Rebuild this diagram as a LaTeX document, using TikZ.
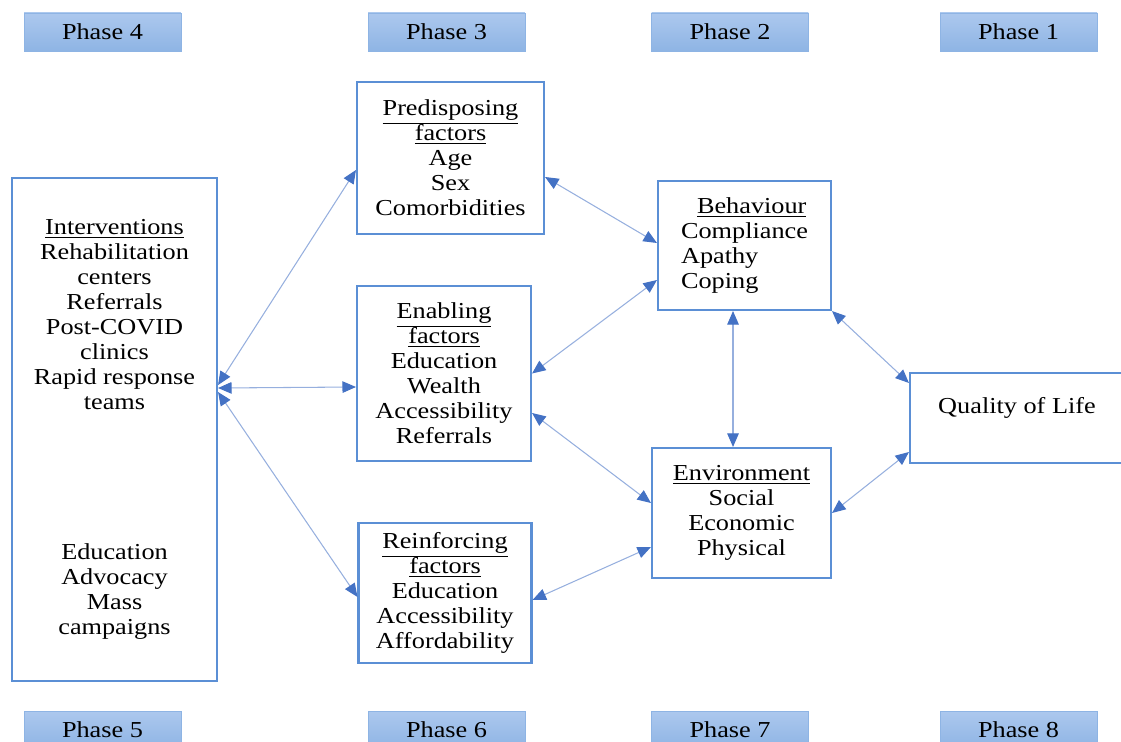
\documentclass[tikz,border=0pt]{standalone}
\usepackage{fontspec}
\setmainfont{Liberation Serif}[FakeStretch=1.15]
\usepackage{tikz}
\usetikzlibrary{arrows.meta}
\usetikzlibrary{calc}

\definecolor{boxblue}{RGB}{91,143,213}
\definecolor{linkblue}{RGB}{150,175,222}
\definecolor{tipblue}{RGB}{68,114,196}
\definecolor{phasetop}{RGB}{172,200,238}
\definecolor{phasebot}{RGB}{142,180,228}

\tikzset{
  factor/.style={draw=boxblue, line width=1.2pt, fill=white, inner sep=0pt, align=center},
  phase/.style={draw=phasebot, top color=phasetop, bottom color=phasebot,
    minimum width=3.14cm, minimum height=0.76cm, inner sep=0pt},
  link/.style={draw=linkblue, line width=0.6pt,
    {Triangle[length=0.27cm,width=0.23cm,color=tipblue]}-{Triangle[length=0.27cm,width=0.23cm,color=tipblue]}},
}

\begin{document}
\begin{tikzpicture}[x=0.02cm, y=-0.02cm, font=\fontsize{13pt}{14.2pt}\selectfont]
    \useasboundingbox (0,0) rectangle (1121,742);

    % phases
    \node[phase] (ph4) at (102.5,32) {Phase 4};
    \node[phase] (ph3) at (446.5,32) {Phase 3};
    \node[phase] (ph2) at (730,32) {Phase 2};
    \node[phase] (ph1) at (1018.5,32) {Phase 1};
    \node[phase] (ph5) at (102.5,730) {Phase 5};
    \node[phase] (ph6) at (446.5,730) {Phase 6};
    \node[phase] (ph7) at (730,730) {Phase 7};
    \node[phase] (ph8) at (1018.5,730) {Phase 8};

    \node[factor, minimum width=4.1cm, minimum height=10.06cm] (iv) at (114.5,429.5)
      {\underline{Interventions}\\Rehabilitation\\centers\\Referrals\\Post-COVID\\clinics\\Rapid response\\teams\\[2.5cm]
       Education\\Advocacy\\Mass\\campaigns};
    \node[factor, minimum width=3.74cm, minimum height=3.04cm] (pd) at (450.5,158)
      {\underline{Predisposing}\\\underline{factors}\\Age\\Sex\\Comorbidities};
    \node[factor, minimum width=3.48cm, minimum height=3.5cm] (en) at (444,373.5)
      {\underline{Enabling}\\\underline{factors}\\Education\\Wealth\\Accessibility\\Referrals};
    \node[factor, minimum width=3.46cm, minimum height=2.8cm] (rf) at (445,593)
      {\underline{Reinforcing}\\\underline{factors}\\Education\\Accessibility\\Affordability};
    \node[factor, align=left, minimum width=3.46cm, minimum height=2.58cm] (bh) at (744.5,245.5)
      {\hspace*{0.32cm}\underline{Behaviour}\\Compliance\\Apathy\\Coping};
    \node[factor, minimum width=3.58cm, minimum height=2.6cm] (env) at (741.5,513)
      {\underline{Environment}\\Social\\Economic\\Physical};
    \node[factor, minimum width=4.28cm, minimum height=1.8cm,
      label={[yshift=0.2cm]center:Quality of Life}] (qol) at (1017,418) {};

    \draw[link] ([yshift=0.89cm]iv.east) -- ([yshift=-0.24cm]pd.west);
    \draw[link] ([yshift=0.83cm]iv.east) -- ([yshift=-0.27cm]en.west);
    \draw[link] ([yshift=0.75cm]iv.east) -- ([yshift=-0.08cm]rf.west);
    \draw[link] ([yshift=-0.38cm]pd.east) -- ([yshift=0.05cm]bh.west);
    \draw[link] (en.east) -- ([yshift=-0.69cm]bh.west);
    \draw[link] ([yshift=-0.79cm]en.east) -- ([yshift=0.2cm]env.west);
    \draw[link] ([yshift=-0.14cm]rf.east) -- ([yshift=-0.68cm]env.west);
    \draw[link] ([xshift=-0.23cm]bh.south) -- ([xshift=-0.23cm]bh.south |- env.north);
    \draw[link] (bh.south east) -- ([yshift=0.7cm]qol.west);
    \draw[link] (env.east) -- ([yshift=-0.68cm]qol.west);
\end{tikzpicture}
\end{document}
